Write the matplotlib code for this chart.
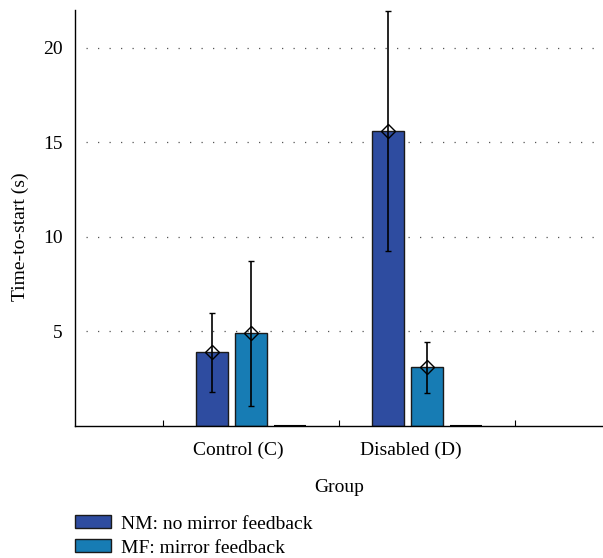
import matplotlib
matplotlib.use("Agg")
import matplotlib.pyplot as plt
import numpy as np

plt.rcParams["font.family"] = ["Liberation Serif", "DejaVu Serif"]

groups = ["Control (C)", "Disabled (D)"]
series = ["NM: no mirror feedback", "MF: mirror feedback", ""]
means = {
    "NM": [3.9, 15.6],
    "MF": [4.9, 3.1],
    "empty": [0.0, 0.0],
}
errs = {
    "NM": [2.1, 6.35],
    "MF": [3.85, 1.35],
}
colors = {"NM": "#2E4CA0", "MF": "#177CB4"}

W, H = 603, 558
fig = plt.figure(figsize=(W / 100, H / 100), dpi=100)
ax = fig.add_axes([75 / W, 132 / H, 528 / W, 416 / H])

x = np.arange(1, len(groups) + 1)
width = 0.18
offsets = {"NM": -0.22, "MF": 0.0, "empty": 0.22}

# dotted horizontal grid behind bars
for yv in [5, 10, 15, 20]:
    ax.axhline(yv, xmin=0.02, color="#555555", linestyle=(0, (1, 8.2)),
               linewidth=0.9, zorder=0)

handles = []
for key, label in [("NM", series[0]), ("MF", series[1])]:
    xs = x + offsets[key]
    h = ax.bar(xs, means[key], width=width, color=colors[key],
               edgecolor="#1a1a1a", linewidth=1.0, zorder=2, label=label)
    handles.append(h)
    ax.errorbar(xs, means[key], yerr=errs[key], fmt="D", mfc="none", mec="black",
                ms=7, mew=1.0, ecolor="black", elinewidth=1.2, capsize=2.5,
                capthick=1.2, zorder=3)
# third (empty) series, zero height
ax.bar(x + offsets["empty"], means["empty"], width=width, color="none",
       edgecolor="black", linewidth=1.5, zorder=2)

ax.set_xlim(0, 3)
ax.set_ylim(0, 22)
ax.set_yticks([5, 10, 15, 20])
ax.set_xticks([0.5, 1.5, 2.5])
ax.set_xticklabels([])
ax.tick_params(axis="x", direction="in", length=4, width=0.8)
ax.tick_params(axis="y", length=0, labelsize=14, pad=9)
for s in ["top", "right"]:
    ax.spines[s].set_visible(False)
ax.spines["left"].set_linewidth(1.0)
ax.spines["bottom"].set_linewidth(1.0)

# group names and axis titles placed in pixel positions of the figure
for xp, g in zip([238, 411], groups):
    fig.text(xp / W, 1 - 450 / H, g, ha="center", va="center", fontsize=14)
fig.text(339 / W, 1 - 487 / H, "Group", ha="center", va="center", fontsize=14)
fig.text(20 / W, 1 - 237 / H, "Time-to-start (s)", rotation=90,
         ha="center", va="center", fontsize=14)

fig.legend(handles=handles, loc="center left",
           bbox_to_anchor=(75 / W, 1 - 536 / H),
           frameon=False, fontsize=14, handlelength=1.85, handleheight=0.62,
           labelspacing=0.35, handletextpad=0.5, borderpad=0, borderaxespad=0)

fig.savefig("out.png", dpi=100)
